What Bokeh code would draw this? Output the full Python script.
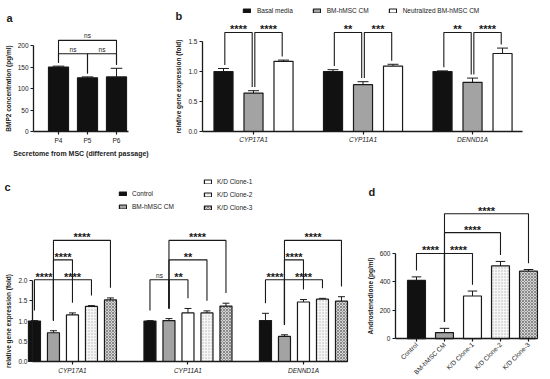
import math
from bokeh.plotting import figure
from bokeh.models import Range1d, FixedTicker, Legend, LegendItem, NumeralTickFormatter, Label
from bokeh.layouts import row, column
from bokeh.embed import file_html
from bokeh.resources import INLINE
from bokeh.core.properties import value

FONT = "Liberation Sans"
INK = "#1a1a1a"

# ---------------- data ----------------
# panel a
a_categories = ["P4", "P5", "P6"]
a_values = [150, 125, 127]
a_errors = [2, 2, 20]
a_sig_pairs = [(0, 1), (1, 2), (0, 2)]
a_sig_levels = [181, 181, 212]
a_sig_labels = ["ns", "ns", "ns"]

# panel b
b_genes = ["CYP17A1", "CYP11A1", "DENND1A"]
b_series = ["Basal media", "BM-hMSC CM", "Neutralized BM-hMSC CM"]
b_basal = [1.00, 1.00, 1.00]
b_basal_err = [0.05, 0.03, 0.01]
b_bm = [0.64, 0.78, 0.82]
b_bm_err = [0.04, 0.05, 0.07]
b_neutral = [1.17, 1.09, 1.30]
b_neutral_err = [0.02, 0.03, 0.09]
b_sig_groups = [0, 0, 1, 1, 2, 2]
b_sig_pairs = [(0, 1), (1, 2), (0, 1), (1, 2), (0, 1), (1, 2)]
b_sig_levels = [1.65, 1.65, 1.65, 1.65, 1.65, 1.65]
b_sig_labels = ["****", "****", "**", "***", "**", "****"]

# panel c
c_genes = ["CYP17A1", "CYP11A1", "DENND1A"]
c_series = ["Control", "BM-hMSC CM", "K/D Clone-1", "K/D Clone-2", "K/D Clone-3"]
c_control = [1.00, 1.00, 1.01]
c_control_err = [0.01, 0.01, 0.18]
c_bm = [0.71, 1.01, 0.62]
c_bm_err = [0.05, 0.05, 0.04]
c_kd1 = [1.15, 1.20, 1.47]
c_kd1_err = [0.05, 0.11, 0.06]
c_kd2 = [1.36, 1.20, 1.54]
c_kd2_err = [0.02, 0.05, 0.02]
c_kd3 = [1.52, 1.37, 1.49]
c_kd3_err = [0.05, 0.07, 0.11]
c_sig_groups = [0, 0, 0, 0, 1, 1, 1, 1, 2, 2, 2, 2]
c_sig_pairs = [(0, 1), (1, 2), (1, 3), (1, 4)] * 3
c_sig_levels = [2.02, 2.51, 2.02, 2.99,
                2.02, 2.02, 2.51, 2.99,
                2.02, 2.51, 2.02, 2.99]
c_sig_labels = ["****", "****", "****", "****",
                "ns", "**", "**", "****",
                "****", "****", "****", "****"]

# panel d
d_categories = ["Control", "BM-hMSC CM", "K/D Clone-1", "K/D Clone-2", "K/D Clone-3"]
d_values = [410, 42, 300, 512, 475]
d_errors = [25, 30, 35, 32, 12]
d_sig_pairs = [(0, 1), (1, 2), (1, 3), (1, 4)]
d_sig_levels = [600, 600, 747, 880]
d_sig_labels = ["****", "****", "****", "****"]

# ---------------- styles ----------------
STYLES = [
    dict(fill_color="#111111"),
    dict(fill_color="#a3a3a3"),
    dict(fill_color="#ffffff"),
    dict(fill_color="#f6f6f6", hatch_pattern="dot", hatch_color="#b4b4b4",
         hatch_scale=3, hatch_weight=1),
    dict(fill_color="#d4d4d4", hatch_pattern="diagonal_cross", hatch_color="#8a8a8a",
         hatch_scale=3, hatch_weight=1),
]


def make_fig(w, h, xr, yr, yaxis_at, xbounds, ybounds):
    # the frame fills the whole canvas; both axes sit at fixed data positions
    p = figure(width=w, height=h, x_range=Range1d(*xr), y_range=Range1d(*yr),
               output_backend="svg", toolbar_location=None,
               min_border_left=0, min_border_right=0,
               min_border_top=0, min_border_bottom=0)
    try:
        p.frame_align = False
    except Exception:
        pass
    p.xgrid.visible = False
    p.ygrid.visible = False
    p.outline_line_color = None
    for ax in p.axis:
        ax.axis_line_width = 1.3
        ax.axis_line_color = INK
        ax.major_tick_line_width = 1.2
        ax.major_tick_line_color = INK
        ax.major_tick_out = 3
        ax.major_tick_in = 0
        ax.minor_tick_line_color = None
        ax.major_label_text_font = FONT
        ax.major_label_text_font_size = "6.5px"
        ax.major_label_text_color = INK
        ax.major_label_standoff = 2
        ax.axis_label_text_font = FONT
        ax.axis_label_text_font_size = "6.5px"
        ax.axis_label_text_font_style = "bold"
        ax.axis_label_text_color = INK
        ax.axis_label_standoff = 3
    p.yaxis.fixed_location = yaxis_at
    p.xaxis.fixed_location = 0
    p.yaxis.bounds = ybounds
    p.xaxis.bounds = xbounds
    return p


def panel_letter(p, txt, x, y):
    # frame-relative pixels (origin at frame bottom-left, y upward)
    p.add_layout(Label(x=x, y=y, x_units="screen", y_units="screen", text=txt,
                       text_font=FONT, text_font_size="11px", text_font_style="bold",
                       text_color=INK, text_baseline="alphabetic", text_align="left"))


def error_bars(p, xs, vals, errs, cap):
    tops = [v + e for v, e in zip(vals, errs)]
    p.segment(x0=xs, y0=vals, x1=xs, y1=tops, line_color=INK, line_width=1)
    p.segment(x0=[x - cap for x in xs], y0=tops, x1=[x + cap for x in xs], y1=tops,
              line_color=INK, line_width=1)


def brackets(p, groups, pairs, levels, labels, xpos, top, gap, inset):
    lx, ly = [], []
    sx, sy, st = [], [], []
    nx, ny, nt = [], [], []
    for g, (i, j), lvl, lab in zip(groups, pairs, levels, labels):
        x0 = xpos(g, i) + inset
        x1 = xpos(g, j) - inset
        lx.append([x0, x0, x1, x1])
        ly.append([top(g, i) + gap, lvl, lvl, top(g, j) + gap])
        if "*" in lab:
            sx.append((x0 + x1) / 2); sy.append(lvl); st.append(lab)
        else:
            nx.append((x0 + x1) / 2); ny.append(lvl); nt.append(lab)
    p.multi_line(lx, ly, line_color=INK, line_width=1.1)
    if st:
        p.text(x=sx, y=sy, text=st, text_font=value(FONT), text_font_size=value("11px"),
               text_font_style="bold", text_color=INK, text_align="center",
               text_baseline="middle", y_offset=-3)
    if nt:
        p.text(x=nx, y=ny, text=nt, text_font=value(FONT), text_font_size=value("6.5px"),
               text_color=INK, text_align="center", text_baseline="bottom", y_offset=-1)


one_decimal = NumeralTickFormatter(format="0.0")

# ================= panel a =================
pa = make_fig(170, 170, (-2.0, 3.862), (-90.7, 304.7), -0.862, (-0.862, 2.414), (0, 200))
a_x = list(range(len(a_categories)))
pa.vbar(x=a_x, top=a_values, width=0.69, fill_color="#111111", line_color=INK, line_width=1.2)
error_bars(pa, a_x, a_values, a_errors, 0.2)
brackets(pa, [0] * len(a_sig_pairs), a_sig_pairs, a_sig_levels, a_sig_labels,
         lambda g, k: a_x[k], lambda g, k: a_values[k] + a_errors[k], 8, 0.0)
pa.xaxis.ticker = FixedTicker(ticks=a_x)
pa.xaxis.major_label_overrides = {x: c for x, c in zip(a_x, a_categories)}
pa.xaxis.axis_label = "Secretome from MSC (different passage)"
pa.xaxis.axis_label_text_font_size = "7px"
pa.yaxis.ticker = FixedTicker(ticks=[0, 50, 100, 150, 200])
pa.yaxis.axis_label = "BMP2 concentration (pg/ml)"
panel_letter(pa, "a", 6, 170 - 17)

# ================= panel b =================
pb = make_fig(380, 170, (-0.758, 2.712), (-0.65, 2.183), -0.466, (-0.466, 2.457), (0, 1.5))
b_vals = [b_basal, b_bm, b_neutral]
b_errs = [b_basal_err, b_bm_err, b_neutral_err]
b_off = 0.274
b_w = 0.174


def b_xpos(g, k):
    return g + (k - 1) * b_off


b_items = []
for k, name in enumerate(b_series):
    xs = [b_xpos(g, k) for g in range(len(b_genes))]
    r = pb.vbar(x=xs, top=b_vals[k], width=b_w, line_color=INK, line_width=1.2, **STYLES[k])
    b_items.append(LegendItem(label=name, renderers=[r]))
    error_bars(pb, xs, b_vals[k], b_errs[k], 0.05)
brackets(pb, b_sig_groups, b_sig_pairs, b_sig_levels, b_sig_labels, b_xpos,
         lambda g, k: b_vals[k][g] + b_errs[k][g], 0.06, 0.012)
pb.xaxis.ticker = FixedTicker(ticks=list(range(len(b_genes))))
pb.xaxis.major_label_overrides = {i: gname for i, gname in enumerate(b_genes)}
pb.xaxis.major_label_text_font_style = "italic"
pb.yaxis.ticker = FixedTicker(ticks=[0, 0.5, 1.0, 1.5])
pb.yaxis.formatter = one_decimal
pb.yaxis.axis_label = "relative gene expression (fold)"
leg_b = Legend(items=b_items, location=(72, 156), orientation="horizontal",
               glyph_width=9, glyph_height=5, label_standoff=6, spacing=19,
               padding=0, margin=0, border_line_color=None, background_fill_alpha=0,
               label_text_font=FONT, label_text_font_size="6.5px", label_text_color=INK,
               label_height=8, label_width=10)
pb.add_layout(leg_b)
panel_letter(pb, "b", 5, 170 - 15)

# ================= panel c =================
pc = make_fig(365, 209, (-0.623, 2.537), (-0.444, 4.716), -0.346, (-0.346, 2.381), (0, 2.0))
c_vals = [c_control, c_bm, c_kd1, c_kd2, c_kd3]
c_errs = [c_control_err, c_bm_err, c_kd1_err, c_kd2_err, c_kd3_err]
c_off = 0.1645
c_w = 0.104


def c_xpos(g, k):
    return g + (k - 2) * c_off


c_items = []
for k, name in enumerate(c_series):
    xs = [c_xpos(g, k) for g in range(len(c_genes))]
    r = pc.vbar(x=xs, top=c_vals[k], width=c_w, line_color=INK, line_width=1.2, **STYLES[k])
    c_items.append(LegendItem(label=name, renderers=[r]))
    error_bars(pc, xs, c_vals[k], c_errs[k], 0.03)
brackets(pc, c_sig_groups, c_sig_pairs, c_sig_levels, c_sig_labels, c_xpos,
         lambda g, k: c_vals[k][g] + c_errs[k][g], 0.25, 0.0)
pc.xaxis.ticker = FixedTicker(ticks=list(range(len(c_genes))))
pc.xaxis.major_label_overrides = {i: gname for i, gname in enumerate(c_genes)}
pc.xaxis.major_label_text_font_style = "italic"
pc.yaxis.ticker = FixedTicker(ticks=[0, 0.5, 1.0, 1.5, 2.0])
pc.yaxis.formatter = one_decimal
pc.yaxis.axis_label = "relative gene expression (fold)"
leg_kw = dict(orientation="vertical", glyph_width=9, glyph_height=5, label_standoff=5,
              spacing=5, padding=0, margin=0, border_line_color=None,
              background_fill_alpha=0, label_text_font=FONT, label_text_font_size="6.5px",
              label_text_color=INK, label_height=8, label_width=10)
pc.add_layout(Legend(items=c_items[:2], location=(118, 169), **leg_kw))
pc.add_layout(Legend(items=c_items[2:], location=(203, 168), **leg_kw))
panel_letter(pc, "c", 4, 209 - 16)

# ================= panel d =================
pd_ = make_fig(185, 209, (-1.821, 4.786), (-289, 1185.6), -0.75, (-0.75, 4.25), (0, 600))
d_x = list(range(len(d_categories)))
for k in d_x:
    pd_.vbar(x=[d_x[k]], top=[d_values[k]], width=0.64, line_color=INK, line_width=1.2,
             **STYLES[k])
error_bars(pd_, d_x, d_values, d_errors, 0.17)
brackets(pd_, [0] * len(d_sig_pairs), d_sig_pairs, d_sig_levels, d_sig_labels,
         lambda g, k: d_x[k], lambda g, k: d_values[k] + d_errors[k], 45, 0.0)
pd_.xaxis.ticker = FixedTicker(ticks=d_x)
pd_.xaxis.major_label_overrides = {x: c for x, c in zip(d_x, d_categories)}
pd_.xaxis.major_label_orientation = math.pi / 4
pd_.yaxis.ticker = FixedTicker(ticks=[0, 200, 400, 600])
pd_.yaxis.axis_label = "Androstenedione (pg/ml)"
panel_letter(pd_, "d", 3, 209 - 21)

layout = column(row(pa, pb), row(pc, pd_))

with open("out.html", "w") as f:
    f.write(file_html(layout, INLINE))
